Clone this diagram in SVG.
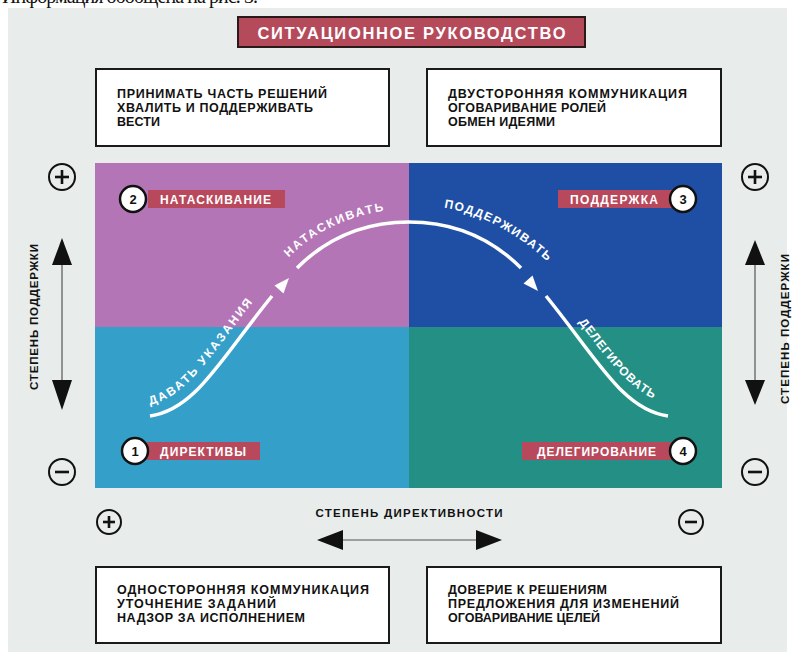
<svg xmlns="http://www.w3.org/2000/svg" xmlns:xlink="http://www.w3.org/1999/xlink" width="797" height="652" viewBox="0 0 797 652">
<style>
.lbl{font-family:"Liberation Sans",Arial,sans-serif;font-weight:bold;fill:#fff;font-size:12px}
.box{fill:#fff;stroke:#1a1a1a;stroke-width:2}
.bt{font-family:"Liberation Sans",Arial,sans-serif;font-weight:bold;fill:#111;font-size:12.5px}
.tag{fill:#b8495c}
.num{fill:#fff;stroke:#111;stroke-width:2.5}
.numt{font-family:"Liberation Sans",Arial,sans-serif;font-weight:bold;fill:#111;font-size:13px;text-anchor:middle}
.pm{fill:none;stroke:#111;stroke-width:2}
.pmt{stroke:#111;stroke-width:2.6;stroke-linecap:butt}
.curve{fill:none;stroke:#fff;stroke-width:3.5}
.ct{font-family:"Liberation Sans",Arial,sans-serif;font-weight:bold;fill:#fff;font-size:12px}
.axis{stroke:#555;stroke-width:1.2}
.axt{font-family:"Liberation Sans",Arial,sans-serif;font-weight:bold;fill:#111;font-size:11.5px}
</style>
<defs>
<path id="pA" d="M144,406 C 188,400 212,352 264,288"/>
<path id="pB" d="M287,259 C 320,226 361,210 409,209"/>
<path id="pC" d="M430,206 C 470,209 510,227 548,262"/>
<path id="pD" d="M560,298 C 609,360 632,400 678,406"/>
</defs>
<rect x="0" y="0" width="797" height="652" fill="#fff"/>
<text x="2" y="3" font-family="Liberation Serif,serif" font-size="20" fill="#111" textLength="256">Информация обобщена на рис. 3.</text>
<rect x="8" y="8" width="779" height="644" fill="#e8ecea"/>

<g id="title">
<rect x="238" y="17" width="347" height="30" fill="#b54a5b" stroke="#2a1a1a" stroke-width="2"/>
<text x="411.5" y="38.5" text-anchor="middle" font-family="Liberation Sans,Arial,sans-serif" font-weight="bold" font-size="16.5" fill="#fff" textLength="308">СИТУАЦИОННОЕ РУКОВОДСТВО</text>
</g>

<g id="box-top-left">
<rect class="box" x="96" y="69" width="293" height="77"/>
<text class="bt" x="117" y="98" textLength="210">ПРИНИМАТЬ ЧАСТЬ РЕШЕНИЙ</text>
<text class="bt" x="117" y="112" textLength="196">ХВАЛИТЬ И ПОДДЕРЖИВАТЬ</text>
<text class="bt" x="117" y="126" textLength="43">ВЕСТИ</text>
</g>
<g id="box-top-right">
<rect class="box" x="427" y="69" width="294" height="77"/>
<text class="bt" x="448" y="98" textLength="239">ДВУСТОРОННЯЯ КОММУНИКАЦИЯ</text>
<text class="bt" x="448" y="112" textLength="158">ОГОВАРИВАНИЕ РОЛЕЙ</text>
<text class="bt" x="448" y="126" textLength="107">ОБМЕН ИДЕЯМИ</text>
</g>

<g id="quadrants">
<rect x="95" y="163" width="314" height="164" fill="#b475b7"/>
<rect x="409" y="163" width="313" height="164" fill="#1e4fa5"/>
<rect x="95" y="327" width="314" height="161" fill="#34a0c9"/>
<rect x="409" y="327" width="313" height="161" fill="#248f85"/>
</g>

<g id="q2">
<rect class="tag" x="148" y="190" width="137" height="18"/>
<circle class="num" cx="133" cy="199" r="13"/>
<text class="numt" x="133" y="203.5">2</text>
<text class="lbl" x="160" y="203.5" textLength="111">НАТАСКИВАНИЕ</text>
</g>
<g id="q3">
<rect class="tag" x="558" y="190" width="114" height="18"/>
<circle class="num" cx="683" cy="199" r="13"/>
<text class="numt" x="683" y="203.5">3</text>
<text class="lbl" x="570" y="203.5" textLength="88">ПОДДЕРЖКА</text>
</g>
<g id="q1">
<rect class="tag" x="147" y="442" width="113" height="18"/>
<circle class="num" cx="135" cy="451" r="13"/>
<text class="numt" x="135" y="455.5">1</text>
<text class="lbl" x="160" y="455.5" textLength="86">ДИРЕКТИВЫ</text>
</g>
<g id="q4">
<rect class="tag" x="522" y="442" width="150" height="18"/>
<circle class="num" cx="683" cy="451" r="13"/>
<text class="numt" x="683" y="455.5">4</text>
<text class="lbl" x="537" y="455.5" textLength="119">ДЕЛЕГИРОВАНИЕ</text>
</g>

<g id="connectors">
<path class="curve" d="M150,416 C 195,410 220,360 272,296"/>
<path class="curve" d="M297,268 C 330,235 370,222 409,222 C 448,222 488,235 521,268"/>
<path class="curve" d="M546,296 C 598,360 623,410 668,416"/>
<polygon points="289,278 283.5,293.5 274.5,285.5" fill="#fff"/>
<polygon points="538,291 523.5,283.5 532.5,275.5" fill="#fff"/>
<text class="ct"><textPath xlink:href="#pA" startOffset="6" textLength="148">ДАВАТЬ  УКАЗАНИЯ</textPath></text>
<text class="ct"><textPath xlink:href="#pB" startOffset="2" textLength="108">НАТАСКИВАТЬ</textPath></text>
<text class="ct"><textPath xlink:href="#pC" startOffset="14" textLength="118">ПОДДЕРЖИВАТЬ</textPath></text>
<text class="ct"><textPath xlink:href="#pD" startOffset="30" textLength="108">ДЕЛЕГИРОВАТЬ</textPath></text>
</g>

<g id="axis-left">
<circle class="pm" cx="62" cy="177" r="13"/>
<line class="pmt" x1="55" y1="177" x2="69" y2="177"/>
<line class="pmt" x1="62" y1="170" x2="62" y2="184"/>
<circle class="pm" cx="62" cy="472" r="13"/>
<line class="pmt" x1="55" y1="472" x2="69" y2="472"/>
<line class="axis" x1="62" y1="255" x2="62" y2="385"/>
<polygon points="62,238 52,265 72,265" fill="#111"/>
<polygon points="62,410 52,380 72,380" fill="#111"/>
<text class="axt" transform="translate(38,317) rotate(-90)" text-anchor="middle" textLength="146">СТЕПЕНЬ ПОДДЕРЖКИ</text>
</g>

<g id="axis-right">
<circle class="pm" cx="755" cy="177" r="13"/>
<line class="pmt" x1="748" y1="177" x2="762" y2="177"/>
<line class="pmt" x1="755" y1="170" x2="755" y2="184"/>
<circle class="pm" cx="755" cy="472" r="13"/>
<line class="pmt" x1="748" y1="472" x2="762" y2="472"/>
<line class="axis" x1="755" y1="255" x2="755" y2="385"/>
<polygon points="755,240 745,265 765,265" fill="#111"/>
<polygon points="755,405 745,380 765,380" fill="#111"/>
<text class="axt" transform="translate(789,329) rotate(-90)" text-anchor="middle" textLength="150">СТЕПЕНЬ ПОДДЕРЖКИ</text>
</g>

<g id="axis-bottom">
<circle class="pm" cx="109" cy="522" r="12"/>
<line class="pmt" x1="103" y1="522" x2="115" y2="522"/>
<line class="pmt" x1="109" y1="516" x2="109" y2="528"/>
<circle class="pm" cx="691" cy="522" r="12"/>
<line class="pmt" x1="685" y1="522" x2="697" y2="522"/>
<text class="axt" x="409" y="517" text-anchor="middle" textLength="187">СТЕПЕНЬ ДИРЕКТИВНОСТИ</text>
<line class="axis" x1="340" y1="540" x2="480" y2="540"/>
<polygon points="317,540 343,530 343,550" fill="#111"/>
<polygon points="502,540 476,530 476,550" fill="#111"/>
</g>

<g id="box-bottom-left">
<rect class="box" x="96" y="567" width="293" height="76"/>
<text class="bt" x="117" y="594" textLength="252">ОДНОСТОРОННЯЯ КОММУНИКАЦИЯ</text>
<text class="bt" x="117" y="608" textLength="159">УТОЧНЕНИЕ ЗАДАНИЙ</text>
<text class="bt" x="117" y="622" textLength="188">НАДЗОР ЗА ИСПОЛНЕНИЕМ</text>
</g>
<g id="box-bottom-right">
<rect class="box" x="427" y="567" width="294" height="76"/>
<text class="bt" x="448" y="594" textLength="159">ДОВЕРИЕ К РЕШЕНИЯМ</text>
<text class="bt" x="448" y="608" textLength="231">ПРЕДЛОЖЕНИЯ ДЛЯ ИЗМЕНЕНИЙ</text>
<text class="bt" x="448" y="622" textLength="152">ОГОВАРИВАНИЕ ЦЕЛЕЙ</text>
</g>
</svg>
